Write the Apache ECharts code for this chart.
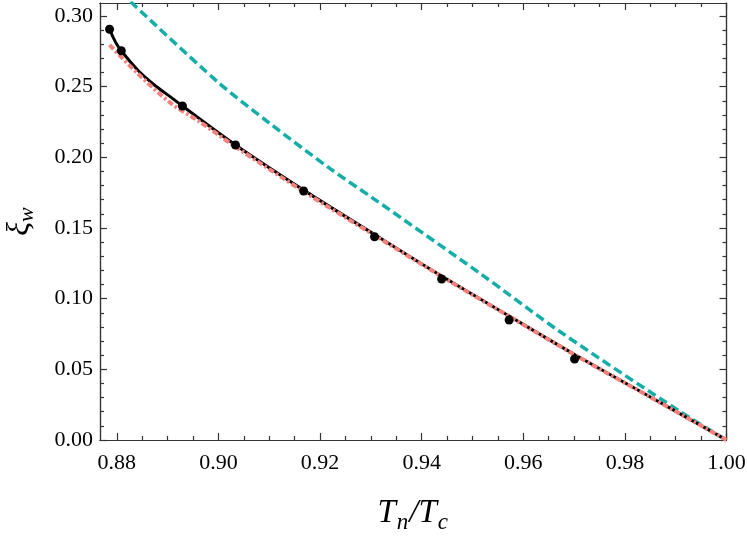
<!DOCTYPE html>
<html><head><meta charset="utf-8">
<script src="https://cdn.jsdelivr.net/npm/echarts@6/dist/echarts.min.js"></script>
<style>html,body{margin:0;padding:0;background:#fff}#c{width:747px;height:537px}</style>
</head><body><div id="c"></div>
<script>
// axis ranges and ticks
const xMin = 0.8767, xMax = 1.0, yMin = 0, yMax = 0.3092;
const xMajor = [0.88, 0.90, 0.92, 0.94, 0.96, 0.98, 1.00];
const xMinor = [0.885, 0.89, 0.895, 0.905, 0.91, 0.915, 0.925, 0.93, 0.935, 0.945, 0.95, 0.955, 0.965, 0.97, 0.975, 0.985, 0.99, 0.995];
const yMajor = [0.00, 0.05, 0.10, 0.15, 0.20, 0.25, 0.30];
const yMinor = [0.01, 0.02, 0.03, 0.04, 0.06, 0.07, 0.08, 0.09, 0.11, 0.12, 0.13, 0.14, 0.16, 0.17, 0.18, 0.19, 0.21, 0.22, 0.23, 0.24, 0.26, 0.27, 0.28, 0.29];

// teal dashed curve
const tealX = [0.88272, 0.89982, 0.91008, 0.92192, 0.93045, 0.95148, 0.96726, 0.99093, 1.0];
const tealY = [0.3101, 0.2535, 0.2241, 0.1922, 0.1710, 0.1179, 0.0766, 0.0200, 0.0];

// black solid curve
const blackX = [0.8784, 0.87858, 0.87976, 0.88089, 0.88410, 0.88740, 0.89069, 0.89292, 0.90337, 0.91678, 0.93073, 0.94394, 0.95722, 0.97010, 0.98502, 1.0];
const blackY = [0.2935, 0.2906, 0.2815, 0.2754, 0.2618, 0.2512, 0.2424, 0.2363, 0.2087, 0.1768, 0.1454, 0.1160, 0.0877, 0.0605, 0.0304, 0.0];

// red dash-dot curve
const redX = [0.87858, 0.88410, 0.89069, 0.89630, 0.90337, 0.91678, 0.93073, 0.94394, 0.95722, 0.97010, 0.98502, 1.0];
const redY = [0.2795, 0.2594, 0.2382, 0.2252, 0.2075, 0.1758, 0.1448, 0.1157, 0.0875, 0.0603, 0.0303, 0.0];

// black dots
const dotX = [0.87858, 0.88089, 0.89292, 0.90337, 0.91678, 0.93073, 0.94394, 0.95722, 0.97010];
const dotY = [0.2906, 0.2754, 0.2363, 0.2087, 0.1762, 0.1438, 0.1139, 0.0849, 0.0573];

function pairs(xs, ys) { return xs.map((x, i) => [x, ys[i]]); }

const FONT = 'Liberation Serif';
const AX = '#333';
const fmt = v => Number(v).toFixed(2);

function xAx(pos, ticks, len, labels, extra) {
  return Object.assign({
    type: 'value', min: xMin, max: xMax, position: pos, gridIndex: 0,
    axisLine: { show: true, onZero: false, lineStyle: { color: AX, width: 1.2 } },
    axisTick: { show: true, inside: true, length: len, customValues: ticks, lineStyle: { color: AX, width: 1.2 } },
    axisLabel: labels ? { show: true, customValues: ticks, formatter: fmt, fontFamily: FONT, fontSize: 22, color: '#000', margin: 12 } : { show: false },
    splitLine: { show: false }, minorTick: { show: false }
  }, extra || {});
}
function yAx(pos, ticks, len, labels, extra) {
  return Object.assign({
    type: 'value', min: yMin, max: yMax, position: pos, gridIndex: 0,
    axisLine: { show: true, onZero: false, lineStyle: { color: AX, width: 1.2 } },
    axisTick: { show: true, inside: true, length: len, customValues: ticks, lineStyle: { color: AX, width: 1.2 } },
    axisLabel: labels ? { show: true, customValues: ticks, formatter: fmt, fontFamily: FONT, fontSize: 22, color: '#000', margin: 7 } : { show: false },
    splitLine: { show: false }, minorTick: { show: false }
  }, extra || {});
}

const chart = echarts.init(document.getElementById('c'), null, { renderer: 'canvas' });
chart.setOption({
  animation: false,
  backgroundColor: '#fff',
  grid: { left: 100, right: 20.5, top: 3, bottom: 97, containLabel: false, outerBoundsMode: 'none' },
  xAxis: [
    xAx('bottom', xMajor, 7, true, {
      name: '{i|T}{s|n}{i|/T}{s|c}', nameLocation: 'middle', nameGap: 57,
      nameTextStyle: {
        rich: {
          i: { fontFamily: FONT, fontStyle: 'italic', fontSize: 33, lineHeight: 36, verticalAlign: 'top', color: '#000' },
          s: { fontFamily: FONT, fontStyle: 'italic', fontSize: 23, lineHeight: 23, padding: [14, 1, 0, 1], verticalAlign: 'top', color: '#000' }
        }
      }
    }),
    xAx('bottom', xMinor, 4, false),
    xAx('top', xMajor, 7, false),
    xAx('top', xMinor, 4, false)
  ],
  yAxis: [
    yAx('left', yMajor, 7, true, {
      name: '{i|ξ}{s|w}', nameLocation: 'middle', nameGap: 62, nameRotate: 90,
      nameTextStyle: {
        rich: {
          i: { fontFamily: FONT, fontStyle: 'italic', fontSize: 32, lineHeight: 34, verticalAlign: 'top', color: '#000' },
          s: { fontFamily: FONT, fontStyle: 'italic', fontSize: 22, lineHeight: 22, padding: [12, 0, 0, 0], verticalAlign: 'top', color: '#000' }
        }
      }
    }),
    yAx('left', yMinor, 4, false),
    yAx('right', yMajor, 7, false),
    yAx('right', yMinor, 4, false)
  ],
  series: [
    { type: 'line', xAxisIndex: 0, yAxisIndex: 0, data: pairs(tealX, tealY), showSymbol: false, smooth: 0.3,
      lineStyle: { color: '#14ADA8', width: 3.5, type: [9, 4.5] }, z: 2 },
    { type: 'line', xAxisIndex: 0, yAxisIndex: 0, data: pairs(blackX, blackY), showSymbol: false, smooth: 0.3,
      lineStyle: { color: '#000', width: 3 }, z: 3 },
    { type: 'line', xAxisIndex: 0, yAxisIndex: 0, data: pairs(redX, redY), showSymbol: false, smooth: 0.3,
      lineStyle: { color: '#F3827C', width: 4, type: [6, 2.5, 2.5, 2.5] }, z: 4 },
    { type: 'scatter', xAxisIndex: 0, yAxisIndex: 0, data: pairs(dotX, dotY), symbol: 'circle', symbolSize: 9,
      itemStyle: { color: '#000', opacity: 1 }, z: 5 }
  ]
});
</script>
</body></html>
